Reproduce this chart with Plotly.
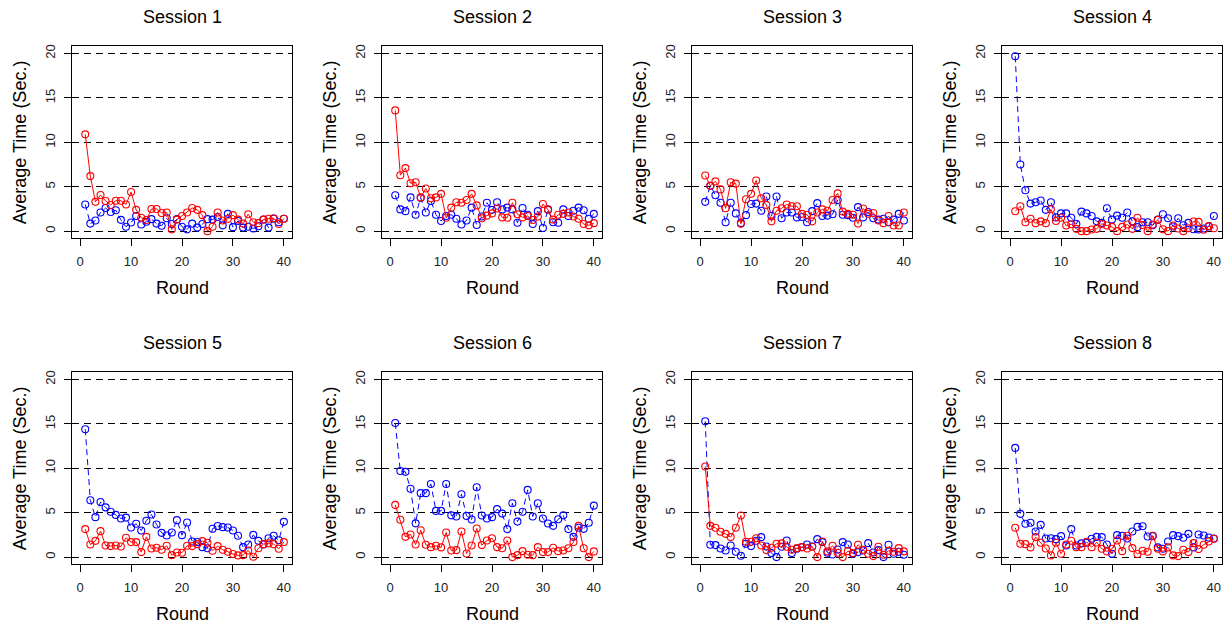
import plotly.graph_objects as go

rounds = list(range(1, 41))
sessions = ["Session 1", "Session 2", "Session 3", "Session 4",
            "Session 5", "Session 6", "Session 7", "Session 8"]

# Average time per round (seconds), red series (solid line)
red_s1 = [10.9, 6.2, 3.3, 4.07, 3.4, 2.95, 3.43, 3.43, 3.0, 4.4,
          2.4, 1.5, 1.25, 2.5, 2.5, 2.05, 2.1, 0.2, 1.3, 1.7,
          2.1, 2.6, 2.4, 1.8, 0.0, 0.5, 2.1, 1.2, 1.4, 1.8,
          1.3, 0.85, 1.9, 1.0, 0.9, 1.3, 1.4, 1.45, 0.8, 1.4]
red_s2 = [13.6, 6.3, 7.1, 5.4, 5.5, 3.8, 4.8, 3.7, 3.8, 4.2,
          1.5, 2.65, 3.25, 3.2, 3.5, 4.2, 2.9, 1.45, 1.75, 2.0,
          2.55, 1.55, 1.5, 3.2, 1.9, 1.55, 1.7, 1.25, 1.65, 3.05,
          2.4, 1.3, 1.85, 1.95, 2.1, 1.65, 1.4, 0.8, 0.65, 0.9]
red_s3 = [6.27, 5.1, 5.6, 4.7, 2.57, 5.5, 5.35, 0.82, 3.6, 4.2,
          5.7, 3.7, 2.95, 1.1, 2.3, 2.57, 3.0, 2.8, 2.8, 1.95,
          1.85, 1.1, 2.1, 2.45, 2.3, 3.5, 4.25, 2.2, 1.95, 1.85,
          0.86, 2.55, 1.95, 2.05, 1.2, 0.9, 1.7, 0.63, 0.63, 2.1]
red_s4 = [2.24, 2.8, 1.0, 1.4, 0.9, 1.1, 0.9, 2.46, 1.15, 1.5,
          0.63, 0.78, 0.26, 0.0, 0.0, 0.19, 0.26, 0.82, 0.63, 0.48,
          0.0, 0.48, 0.75, 0.26, 1.5, 0.7, 0.0, 0.75, 1.27, 0.22,
          0.0, 0.63, 0.3, 0.0, 0.33, 1.08, 1.04, 0.15, 0.56, 0.33]
red_s5 = [3.15, 1.42, 1.83, 2.92, 1.31, 1.24, 1.31, 1.2, 2.17, 1.69,
          1.69, 0.56, 2.28, 0.97, 1.05, 0.82, 1.27, 0.22, 0.52, 0.49,
          1.27, 1.24, 1.46, 1.8, 1.61, 0.71, 1.24, 0.82, 0.6, 0.34,
          0.19, 0.22, 0.75, 0.04, 1.0, 1.46, 1.54, 1.46, 0.94, 1.69]
red_s6 = [5.88, 4.2, 2.28, 2.55, 1.42, 3.03, 1.39, 1.12, 1.27, 1.09,
          2.77, 0.75, 0.79, 2.88, 0.41, 1.31, 3.22, 1.35, 1.87, 2.13,
          1.12, 1.0, 1.87, 0.0, 0.22, 0.67, 0.26, 0.22, 1.12, 0.56,
          0.56, 1.05, 0.67, 0.75, 1.0, 1.69, 3.52, 1.0, 0.0, 0.64]
red_s7 = [10.2, 3.52, 3.3, 2.85, 2.62, 2.25, 3.3, 4.68, 1.72, 1.72,
          2.13, 1.31, 0.79, 1.05, 1.5, 1.54, 1.16, 0.82, 1.01, 1.12,
          0.97, 1.16, 0.0, 1.76, 0.64, 1.27, 0.49, 0.0, 0.67, 0.45,
          1.39, 0.82, 0.37, 0.11, 1.16, 0.26, 0.71, 0.6, 1.01, 0.64]
red_s8 = [3.3, 1.5, 1.46, 1.09, 2.25, 1.61, 0.97, 0.19, 1.61, 0.37,
          1.42, 1.84, 1.12, 1.12, 1.72, 1.12, 1.65, 0.94, 0.64, 0.94,
          1.87, 0.67, 2.4, 1.01, 0.34, 0.71, 0.6, 2.4, 0.94, 0.64,
          1.09, 0.19, 0.11, 0.82, 0.56, 1.57, 0.9, 1.39, 1.76, 2.06]

# Average time per round (seconds), blue series (dashed line)
blue_s1 = [3.0, 0.85, 1.2, 2.1, 2.6, 2.15, 2.35, 1.27, 0.5, 0.97,
           1.7, 0.75, 1.05, 1.35, 0.85, 0.6, 1.45, 0.8, 1.35, 0.5,
           0.2, 0.85, 0.4, 0.8, 1.35, 1.3, 1.6, 0.65, 1.95, 0.45,
           1.15, 0.4, 0.5, 0.3, 0.55, 1.3, 0.4, 1.4, 1.0, 1.4]
blue_s2 = [4.05, 2.45, 2.25, 3.8, 1.85, 3.75, 2.1, 3.4, 1.85, 1.15,
           1.7, 1.85, 1.4, 0.75, 1.2, 2.65, 0.7, 1.65, 3.2, 2.4,
           3.25, 2.45, 2.65, 2.45, 0.95, 2.6, 1.85, 0.8, 2.25, 0.35,
           2.45, 1.0, 0.95, 2.45, 1.7, 2.3, 2.65, 2.35, 1.4, 1.95]
blue_s3 = [3.3, 5.1, 4.05, 3.2, 1.0, 3.2, 2.0, 0.93, 1.8, 3.05,
           3.1, 2.3, 3.9, 1.7, 3.9, 1.45, 2.1, 2.1, 1.55, 1.6,
           1.0, 2.25, 3.15, 1.7, 1.75, 1.9, 3.5, 1.85, 1.8, 1.5,
           2.7, 1.55, 2.15, 1.45, 1.3, 1.4, 1.0, 1.3, 1.95, 1.2]
blue_s4 = [19.7, 7.5, 4.6, 3.1, 3.25, 3.45, 2.4, 3.25, 1.55, 2.0,
           2.0, 1.5, 0.8, 2.2, 2.0, 1.7, 1.1, 0.93, 2.57, 1.3,
           1.75, 1.5, 2.1, 1.1, 0.45, 1.0, 1.0, 0.67, 1.3, 1.9,
           1.45, 0.52, 1.45, 0.67, 0.93, 0.22, 0.19, 0.3, 0.52, 1.7]
blue_s5 = [14.4, 6.4, 4.5, 6.2, 5.6, 5.1, 4.75, 4.35, 4.45, 3.33,
           3.75, 3.0, 4.1, 4.8, 3.67, 2.73, 2.43, 2.77, 4.16, 2.47,
           3.9, 1.76, 1.7, 1.12, 1.0, 3.2, 3.5, 3.37, 3.33, 3.0,
           2.4, 1.12, 1.42, 2.5, 1.83, 1.42, 2.13, 2.4, 1.9, 3.97]
blue_s6 = [15.1, 9.7, 9.6, 7.7, 3.8, 7.2, 7.2, 8.24, 5.2, 5.2,
           8.24, 4.7, 4.57, 7.08, 4.64, 4.23, 7.87, 4.68, 4.34, 4.5,
           5.4, 4.9, 3.15, 6.07, 4.0, 5.1, 7.57, 4.57, 6.07, 4.34,
           3.78, 3.52, 4.27, 4.7, 3.15, 2.28, 3.3, 3.18, 3.86, 5.8]
blue_s7 = [15.3, 1.39, 1.35, 0.97, 0.75, 1.31, 0.6, 0.15, 1.5, 1.24,
           1.84, 2.25, 1.2, 0.45, 0.0, 1.16, 1.87, 0.45, 0.94, 1.12,
           1.42, 1.2, 2.02, 1.69, 0.49, 0.3, 0.86, 1.69, 1.42, 0.37,
           0.56, 0.75, 1.57, 0.52, 0.79, 0.0, 1.39, 0.37, 0.6, 0.26]
blue_s8 = [12.3, 4.87, 3.75, 3.86, 2.88, 3.63, 2.1, 2.13, 2.02, 2.36,
           1.31, 3.15, 1.31, 1.54, 1.61, 2.06, 2.28, 2.25, 1.42, 0.37,
           2.47, 2.4, 2.1, 2.88, 3.4, 3.48, 2.32, 2.36, 1.09, 0.94,
           1.76, 2.47, 2.36, 2.17, 2.62, 1.09, 2.55, 2.43, 2.21, 2.1]

red_series = [red_s1, red_s2, red_s3, red_s4, red_s5, red_s6, red_s7, red_s8]
blue_series = [blue_s1, blue_s2, blue_s3, blue_s4, blue_s5, blue_s6, blue_s7, blue_s8]

x_ticks = [0, 10, 20, 30, 40]
y_ticks = [0, 5, 10, 15, 20]

W, H = 1232, 625
FONT = "Liberation Sans, Arial, Helvetica, sans-serif"

# Panel geometry in pixels
col_left = [72, 382, 692, 1002]
panel_w = 220
row_top = [44.6, 371.6]
panel_h = 192.4
row_shift = 327

fig = go.Figure()
annotations = []

for i in range(8):
    r, c = divmod(i, 4)
    n = i + 1
    xa = "xaxis" if n == 1 else f"xaxis{n}"
    ya = "yaxis" if n == 1 else f"yaxis{n}"
    xref = "x" if n == 1 else f"x{n}"
    yref = "y" if n == 1 else f"y{n}"

    x0 = col_left[c]
    y0 = row_top[r]
    dom_x = [x0 / W, (x0 + panel_w) / W]
    dom_y = [1 - (y0 + panel_h) / H, 1 - y0 / H]

    fig.add_trace(go.Scatter(
        x=rounds, y=blue_series[i], mode="lines+markers",
        line=dict(color="#0000FF", width=1, dash="6px,4px"),
        marker=dict(symbol="circle-open", size=7, color="#0000FF",
                    line=dict(width=1.1, color="#0000FF")),
        xaxis=xref, yaxis=yref, showlegend=False, hoverinfo="x+y"))
    fig.add_trace(go.Scatter(
        x=rounds, y=red_series[i], mode="lines+markers",
        line=dict(color="#FF0000", width=1),
        marker=dict(symbol="circle-open", size=7, color="#FF0000",
                    line=dict(width=1.1, color="#FF0000")),
        xaxis=xref, yaxis=yref, showlegend=False, hoverinfo="x+y"))

    fig.layout[xa] = dict(
        domain=dom_x, range=[-1.6, 41.6], anchor=yref,
        tickmode="array", tickvals=x_ticks, ticktext=[str(v) for v in x_ticks],
        ticks="outside", ticklen=7, tickwidth=1, tickcolor="#000",
        showline=True, linecolor="#000", linewidth=1, mirror=True,
        showgrid=False, zeroline=False,
        tickfont=dict(family=FONT, size=13, color="#222"),
        ticklabelstandoff=4, fixedrange=True)
    fig.layout[ya] = dict(
        domain=dom_y, range=[-0.8, 20.8], anchor=xref,
        tickmode="array", tickvals=y_ticks, ticktext=[str(v) for v in y_ticks],
        ticks="outside", ticklen=7, tickwidth=1, tickcolor="#000",
        tickangle=-90,
        showline=True, linecolor="#000", linewidth=1, mirror=True,
        showgrid=True, gridcolor="#000", gridwidth=1, griddash="7px,5px",
        zeroline=False,
        tickfont=dict(family=FONT, size=13, color="#222"),
        ticklabelstandoff=4, fixedrange=True)

    cx = x0 + panel_w / 2
    annotations.append(dict(
        text=sessions[i], x=cx / W, y=1 - (15 + r * row_shift) / H,
        xref="paper", yref="paper", showarrow=False,
        xanchor="center", yanchor="middle",
        font=dict(family=FONT, size=18, color="#000")))
    annotations.append(dict(
        text="Round", x=cx / W, y=1 - (287 + r * row_shift) / H,
        xref="paper", yref="paper", showarrow=False,
        xanchor="center", yanchor="middle",
        font=dict(family=FONT, size=18, color="#000")))
    annotations.append(dict(
        text="Average Time (Sec.)", x=(20 + c * 310) / W,
        y=1 - (y0 + panel_h / 2) / H,
        xref="paper", yref="paper", showarrow=False, textangle=-90,
        xanchor="center", yanchor="middle",
        font=dict(family=FONT, size=18, color="#000")))

fig.update_layout(
    width=W, height=H, autosize=False,
    margin=dict(l=0, r=0, t=0, b=0),
    paper_bgcolor="#FFFFFF", plot_bgcolor="#FFFFFF",
    annotations=annotations)

fig.write_html("out.html", config={"displayModeBar": False})
